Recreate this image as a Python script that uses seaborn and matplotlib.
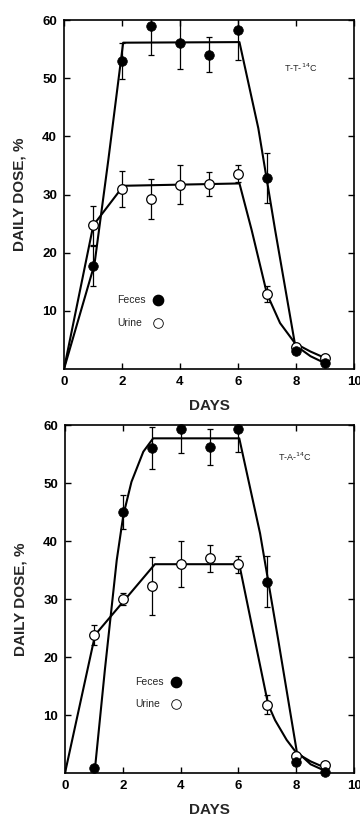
import matplotlib
matplotlib.use("Agg")
import matplotlib.pyplot as plt
import seaborn as sns
import pandas as pd

# ---------------- data ----------------
days = [1, 2, 3, 4, 5, 6, 7, 8, 9]

# Top panel (T-T-14C)
feces_top = [17.7, 53.0, 59.0, 56.0, 54.0, 58.2, 32.8, 3.1, 1.0]
feces_top_err = [3.5, 3.1, 5.0, 4.4, 3.0, 5.1, 4.3, 0, 0]
urine_top = [24.7, 30.9, 29.2, 31.7, 31.8, 33.6, 12.9, 3.8, 1.9]
urine_top_err = [3.3, 3.1, 3.4, 3.4, 2.0, 1.4, 1.3, 0, 0]
fit_feces_top_x = [0, 1.05, 1.53, 2.04, 6.05, 6.7, 7.28, 7.97, 8.5, 9.0]
fit_feces_top_y = [0, 18.0, 36.0, 56.1, 56.2, 41.4, 23.9, 4.1, 2.2, 1.0]
fit_urine_top_x = [0, 1.01, 2.05, 6.05, 6.47, 7.0, 7.45, 7.97, 8.5, 9.0]
fit_urine_top_y = [0, 24.7, 31.5, 31.9, 23.9, 12.9, 7.9, 4.4, 3.0, 1.9]

# Bottom panel (T-A-14C)
feces_bot = [0.9, 45.0, 56.0, 59.3, 56.2, 59.3, 33.0, 1.9, 0.2]
feces_bot_err = [0, 3.0, 3.6, 4.1, 3.1, 4.0, 4.4, 0, 0]
urine_bot = [23.8, 30.0, 32.2, 36.0, 37.0, 36.0, 11.8, 2.9, 1.3]
urine_bot_err = [1.8, 1.0, 5.0, 4.0, 2.3, 1.5, 1.6, 0, 0]
fit_feces_bot_x = [1.04, 1.38, 1.79, 2.02, 2.3, 2.71, 3.05, 6.03, 6.75, 7.38, 8.02, 8.5, 9.03]
fit_feces_bot_y = [0.9, 17.8, 36.7, 44.5, 50.2, 55.4, 57.7, 57.7, 41.3, 22.9, 3.7, 1.5, 0.3]
fit_urine_bot_x = [0, 1.04, 3.11, 6.03, 6.57, 7.03, 7.27, 7.67, 8.02, 8.5, 9.05]
fit_urine_bot_y = [0, 23.8, 36.0, 36.0, 22.9, 11.8, 9.1, 5.7, 3.4, 2.0, 0.8]

x_ticks = [0, 2, 4, 6, 8, 10]
y_ticks = [10, 20, 30, 40, 50, 60]
panel_labels = ["T-T-$^{14}$C", "T-A-$^{14}$C"]
xlabel = "DAYS"
ylabel = "DAILY DOSE, %"

sns.set_theme(style="white")
plt.rcParams['font.family'] = ['Liberation Sans', 'DejaVu Sans']

fig = plt.figure(figsize=(3.6, 8.23), dpi=100)
ax_top = fig.add_axes([64/360, (823-369)/823, 290/360, 349/823])
ax_bot = fig.add_axes([65/360, (823-773)/823, 289/360, 348/823])

panels = [
    (ax_top, feces_top, feces_top_err, urine_top, urine_top_err,
     fit_feces_top_x, fit_feces_top_y, fit_urine_top_x, fit_urine_top_y,
     panel_labels[0], (8.15, 51.7), (1.83, 11.9, 3.23), (1.83, 7.9, 3.23)),
    (ax_bot, feces_bot, feces_bot_err, urine_bot, urine_bot_err,
     fit_feces_bot_x, fit_feces_bot_y, fit_urine_bot_x, fit_urine_bot_y,
     panel_labels[1], (7.95, 54.5), (2.42, 15.7, 3.84), (2.42, 11.9, 3.84)),
]

for (ax, fe, fe_err, ur, ur_err, ffx, ffy, fux, fuy, plab, plab_pos,
     leg_f, leg_u) in panels:
    fit_f = pd.DataFrame({"x": ffx, "y": ffy})
    fit_u = pd.DataFrame({"x": fux, "y": fuy})
    sns.lineplot(data=fit_f, x="x", y="y", ax=ax, color="black", lw=1.5,
                 sort=False, estimator=None, zorder=2)
    sns.lineplot(data=fit_u, x="x", y="y", ax=ax, color="black", lw=1.5,
                 sort=False, estimator=None, zorder=2)

    ax.errorbar(days, fe, yerr=fe_err, fmt="none", ecolor="black",
                elinewidth=0.9, capsize=2.5, capthick=0.9, zorder=3)
    ax.errorbar(days, ur, yerr=ur_err, fmt="none", ecolor="black",
                elinewidth=0.9, capsize=2.5, capthick=0.9, zorder=3)

    df_f = pd.DataFrame({"x": days, "y": fe})
    df_u = pd.DataFrame({"x": days, "y": ur})
    sns.scatterplot(data=df_u, x="x", y="y", ax=ax, s=48, color="white",
                    edgecolor="black", linewidth=0.9, zorder=4, clip_on=False)
    sns.scatterplot(data=df_f, x="x", y="y", ax=ax, s=48, color="black",
                    edgecolor="black", linewidth=0.5, zorder=5, clip_on=False)

    # in-plot key
    ax.text(leg_f[0], leg_f[1], "Feces", fontsize=7.5, va="center", ha="left")
    ax.scatter([leg_f[2]], [leg_f[1]], s=55, color="black", zorder=5)
    ax.text(leg_u[0], leg_u[1], "Urine", fontsize=7.5, va="center", ha="left")
    ax.scatter([leg_u[2]], [leg_u[1]], s=48, facecolor="white",
               edgecolor="black", linewidth=0.6, zorder=5)

    ax.text(plab_pos[0], plab_pos[1], plab, fontsize=6.5, ha="center",
            va="center")

    ax.set_xlim(0, 10)
    ax.set_ylim(0, 60)
    ax.set_xticks(x_ticks)
    ax.set_yticks(y_ticks)
    ax.set_xticklabels([str(t) for t in x_ticks], fontsize=9.5,
                       fontweight="bold")
    ax.set_yticklabels([str(t) for t in y_ticks], fontsize=9.5,
                       fontweight="bold")
    ax.tick_params(direction="in", length=4, width=1, top=True, right=True,
                   bottom=True, left=True, pad=5, colors="black")
    ax.set_xlabel(xlabel, fontsize=11, fontweight="bold", labelpad=8)
    ax.set_ylabel(ylabel, fontsize=11, fontweight="bold")
    ax.yaxis.set_label_coords(-0.131, 0.5)
    for sp in ax.spines.values():
        sp.set_visible(True)
        sp.set_color("black")
        sp.set_linewidth(1.2)
    ax.grid(False)
    ax.set_facecolor("white")

fig.savefig("out.png", dpi=100, facecolor="white")
